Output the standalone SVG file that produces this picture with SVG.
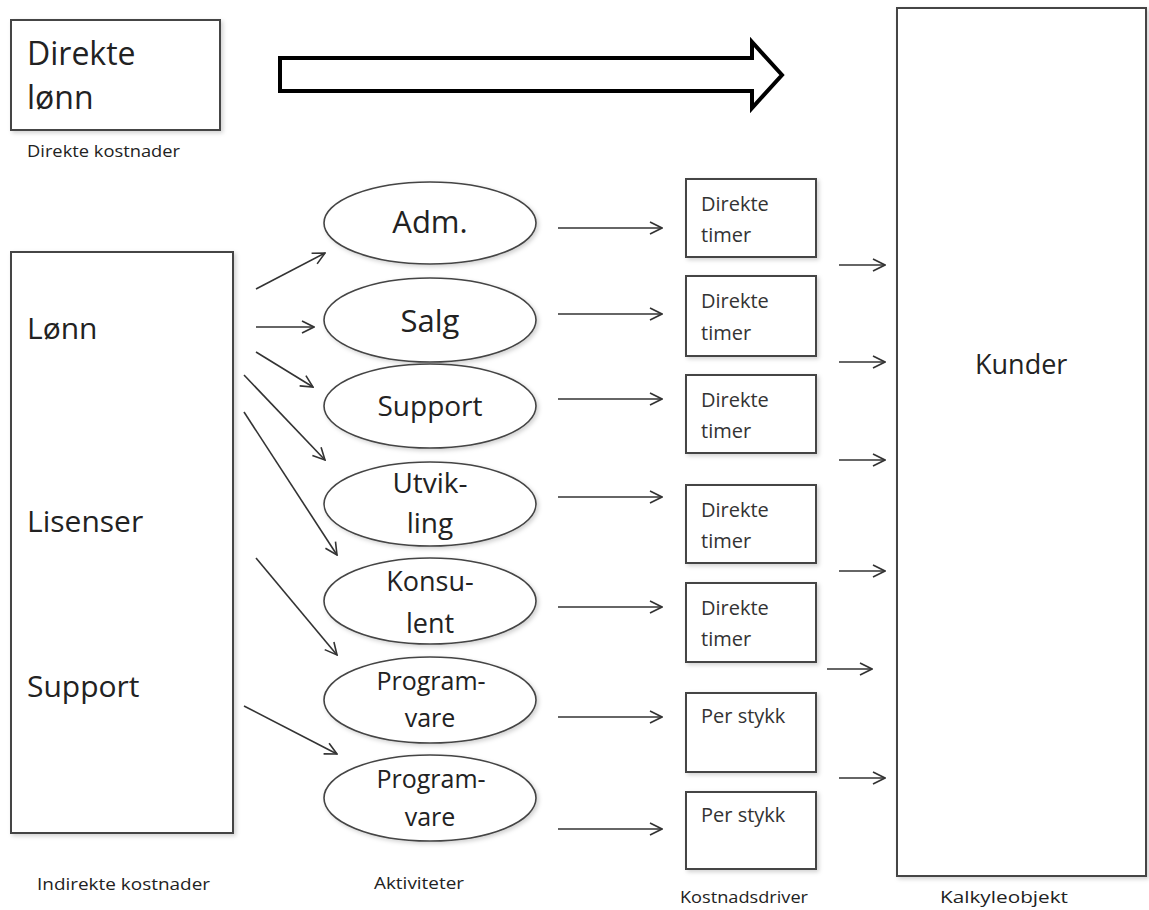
<svg xmlns="http://www.w3.org/2000/svg" width="1149" height="910" viewBox="0 0 1149 910">
<defs>
<style>
.box{fill:#fff;stroke:#444;stroke-width:2;filter:url(#sh)}
.ell{fill:#fff;stroke:#444;stroke-width:1.6;filter:url(#sh)}
.t{font-family:"Open Sans","Liberation Sans",sans-serif;fill:#222}
.d{font-family:"Open Sans","Liberation Sans",sans-serif;fill:#333;font-size:20px}
.c{stroke:#333;stroke-width:1.6;fill:none;marker-end:url(#ah)}
.lab{font-family:"Open Sans","Liberation Sans",sans-serif;fill:#222;font-size:17px;font-weight:500}
</style>
<filter id="sh" x="-10%" y="-10%" width="130%" height="130%"><feDropShadow dx="2" dy="2" stdDeviation="2" flood-color="#000" flood-opacity="0.18"/></filter>
<marker id="ah" viewBox="0 0 14 14" refX="13" refY="7" markerWidth="14" markerHeight="14" markerUnits="userSpaceOnUse" orient="auto"><path d="M1,1 L13,7 L1,13" fill="none" stroke="#333" stroke-width="1.6"/></marker>
</defs>
<rect width="1149" height="910" fill="#fff"/>

<g id="direkte-lonn">
<rect class="box" x="11" y="20" width="209" height="110"/>
<text class="t" x="27" y="65" font-size="32">Direkte</text>
<text class="t" x="27" y="109" font-size="32">lønn</text>
<text class="lab" x="27" y="157" textLength="153" lengthAdjust="spacingAndGlyphs">Direkte kostnader</text>
</g>

<g id="big-arrow">
<polygon points="280,58 752,58 752,42 782,75 752,108 752,91 280,91" fill="#fff" stroke="#000" stroke-width="4" stroke-linejoin="miter"/>
</g>

<g id="kunder">
<rect class="box" x="897" y="8" width="249" height="868"/>
<text class="t" x="975" y="374" font-size="27">Kunder</text>
<text class="lab" x="940" y="903" textLength="128" lengthAdjust="spacingAndGlyphs">Kalkyleobjekt</text>
</g>

<g id="indirekte">
<rect class="box" x="11" y="252" width="222" height="581"/>
<text class="t" x="27" y="339" font-size="30">Lønn</text>
<text class="t" x="27" y="532" font-size="30">Lisenser</text>
<text class="t" x="27" y="697" font-size="30">Support</text>
<text class="lab" x="37" y="890" textLength="173" lengthAdjust="spacingAndGlyphs">Indirekte kostnader</text>
</g>

<g id="act-adm"><ellipse class="ell" cx="430" cy="223" rx="106" ry="41"/><text class="t" x="430" y="233" font-size="31" text-anchor="middle">Adm.</text></g>
<g id="act-salg"><ellipse class="ell" cx="430" cy="320" rx="106" ry="42"/><text class="t" x="430" y="332" font-size="31" text-anchor="middle">Salg</text></g>
<g id="act-support"><ellipse class="ell" cx="430" cy="406" rx="106" ry="42"/><text class="t" x="430" y="416" font-size="28" text-anchor="middle">Support</text></g>
<g id="act-utvikling"><ellipse class="ell" cx="430" cy="504" rx="106" ry="42"/><text class="t" x="430" y="493" font-size="28" text-anchor="middle">Utvik-</text><text class="t" x="430" y="533" font-size="28" text-anchor="middle">ling</text></g>
<g id="act-konsulent"><ellipse class="ell" cx="430" cy="601" rx="106" ry="43"/><text class="t" x="430" y="591" font-size="27" text-anchor="middle">Konsu-</text><text class="t" x="430" y="633" font-size="27" text-anchor="middle">lent</text></g>
<g id="act-programvare1"><ellipse class="ell" cx="430" cy="700" rx="106" ry="43"/><text class="t" x="431" y="690" font-size="25" font-weight="500" text-anchor="middle">Program-</text><text class="t" x="430" y="727" font-size="25" font-weight="500" text-anchor="middle">vare</text></g>
<g id="act-programvare2"><ellipse class="ell" cx="430" cy="798" rx="106" ry="43"/><text class="t" x="431" y="788" font-size="25" font-weight="500" text-anchor="middle">Program-</text><text class="t" x="430" y="826" font-size="25" font-weight="500" text-anchor="middle">vare</text></g>
<text class="lab" x="374" y="889" textLength="90" lengthAdjust="spacingAndGlyphs">Aktiviteter</text>

<g id="drv1"><rect class="box" x="686" y="179" width="130" height="78"/><text class="d" x="701" y="211">Direkte</text><text class="d" x="701" y="242">timer</text></g>
<g id="drv2"><rect class="box" x="686" y="276" width="130" height="80"/><text class="d" x="701" y="308">Direkte</text><text class="d" x="701" y="340">timer</text></g>
<g id="drv3"><rect class="box" x="686" y="375" width="130" height="78"/><text class="d" x="701" y="407">Direkte</text><text class="d" x="701" y="438">timer</text></g>
<g id="drv4"><rect class="box" x="686" y="485" width="130" height="78"/><text class="d" x="701" y="517">Direkte</text><text class="d" x="701" y="548">timer</text></g>
<g id="drv5"><rect class="box" x="686" y="583" width="130" height="79"/><text class="d" x="701" y="615">Direkte</text><text class="d" x="701" y="646">timer</text></g>
<g id="drv6"><rect class="box" x="686" y="693" width="130" height="79"/><text class="d" x="701" y="723">Per stykk</text></g>
<g id="drv7"><rect class="box" x="686" y="792" width="130" height="77"/><text class="d" x="701" y="822">Per stykk</text></g>
<text class="lab" x="680" y="903" textLength="128" lengthAdjust="spacingAndGlyphs">Kostnadsdriver</text>

<g id="connectors">
<line class="c" x1="256" y1="289" x2="325" y2="253"/>
<line class="c" x1="256" y1="327" x2="314" y2="327"/>
<line class="c" x1="256" y1="352" x2="313" y2="387"/>
<line class="c" x1="244" y1="375" x2="325" y2="460"/>
<line class="c" x1="244" y1="412" x2="337" y2="555"/>
<line class="c" x1="256" y1="558" x2="337" y2="655"/>
<line class="c" x1="244" y1="706" x2="337" y2="754"/>

<line class="c" x1="558" y1="228" x2="662" y2="228"/>
<line class="c" x1="558" y1="314" x2="662" y2="314"/>
<line class="c" x1="558" y1="399" x2="662" y2="399"/>
<line class="c" x1="558" y1="497" x2="662" y2="497"/>
<line class="c" x1="558" y1="607" x2="662" y2="607"/>
<line class="c" x1="558" y1="717" x2="662" y2="717"/>
<line class="c" x1="558" y1="829" x2="662" y2="829"/>

<line class="c" x1="839" y1="265" x2="885" y2="265"/>
<line class="c" x1="839" y1="362" x2="885" y2="362"/>
<line class="c" x1="839" y1="460" x2="885" y2="460"/>
<line class="c" x1="839" y1="571" x2="885" y2="571"/>
<line class="c" x1="827" y1="669" x2="872" y2="669"/>
<line class="c" x1="839" y1="778" x2="885" y2="778"/>
</g>
</svg>
